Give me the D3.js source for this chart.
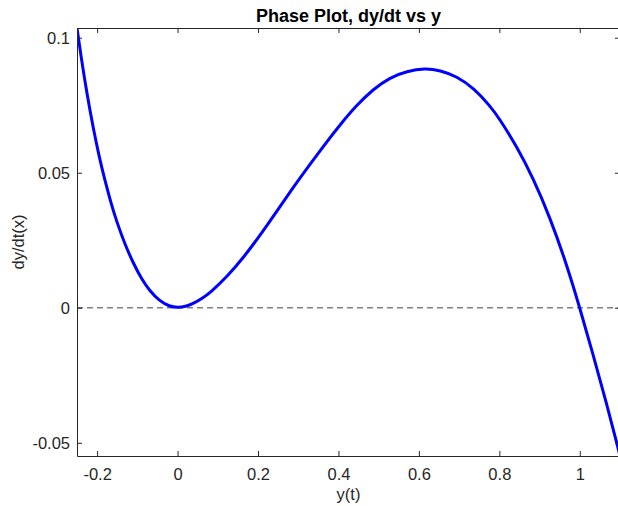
<!DOCTYPE html>
<html>
<head>
<meta charset="utf-8">
<script src="https://cdn.jsdelivr.net/npm/d3@7"></script>
<style>
  body { margin: 0; background: #fff; }
  svg { display: block; font-family: "Liberation Sans", Arial, sans-serif; }
</style>
</head>
<body>
<svg width="618" height="506"></svg>
<script>
// Curve samples
var yVals = [-0.25, -0.24, -0.225, -0.21, -0.195, -0.18, -0.165, -0.15, -0.13, -0.11,
    -0.09, -0.07, -0.045, -0.02, 0, 0.02, 0.0398, 0.06, 0.0812, 0.1227, 0.164, 0.2055,
    0.247, 0.2882, 0.3297, 0.3712, 0.4042, 0.4457, 0.487, 0.5284, 0.570, 0.6154,
    0.6527, 0.6942, 0.7354, 0.777, 0.8017, 0.8432, 0.8845, 0.926, 0.9675, 1.0,
    1.0335, 1.0668, 1.0917, 1.1];
var dyVals = [0.1036, 0.0930, 0.0790, 0.0668, 0.0560, 0.0468, 0.0385, 0.0313, 0.0232, 0.0165,
    0.0108, 0.0064, 0.0025, 0.0005, 0, 0.0004, 0.0016, 0.0033, 0.0056, 0.0114, 0.0186, 0.0269,
    0.0358, 0.0447, 0.0532, 0.0615, 0.0678, 0.0751, 0.0810, 0.0853, 0.0876, 0.0887,
    0.0879, 0.0857, 0.0814, 0.0748, 0.0697, 0.0597, 0.0479, 0.0334, 0.0160, 0,
    -0.0176, -0.0355, -0.0499, -0.0549];
var xTicks = [-0.2, 0, 0.2, 0.4, 0.6, 0.8, 1];
var yTicks = [-0.05, 0, 0.05, 0.1];

var svg = d3.select("svg");
var plotLeft = 77, plotTop = 28, plotRight = 620, plotBottom = 456;
var axisColor = "#262626";
var tickLen = 5;

var x = d3.scaleLinear().domain([-0.25, 1.1]).range([plotLeft, plotRight]);
var y = d3.scaleLinear().domain([-0.0549, 0.1036]).range([plotBottom, plotTop]);

svg.append("defs").append("clipPath")
    .attr("id", "plotclip")
    .append("rect")
    .attr("x", plotLeft).attr("y", plotTop)
    .attr("width", plotRight - plotLeft).attr("height", plotBottom - plotTop);

// zero line
svg.append("line")
    .attr("x1", plotLeft).attr("x2", plotRight)
    .attr("y1", y(0)).attr("y2", y(0))
    .attr("stroke", "#808080")
    .attr("stroke-width", 1.5)
    .attr("stroke-dasharray", "6,4");

var pts = yVals.map(function (v, i) { return [v, dyVals[i]]; });
var line = d3.line()
    .x(function (d) { return x(d[0]); })
    .y(function (d) { return y(d[1]); })
    .curve(d3.curveBasis);

svg.append("path")
    .datum(pts)
    .attr("clip-path", "url(#plotclip)")
    .attr("d", line)
    .attr("fill", "none")
    .attr("stroke", "#0000ff")
    .attr("stroke-width", 3)
    .attr("stroke-linejoin", "round");

// axes (box with inward ticks)
var fmt = function (d) { return d3.format("~g")(d).replace("\u2212", "-"); };
svg.append("g")
    .attr("transform", "translate(0," + plotBottom + ")")
    .call(d3.axisBottom(x).tickValues(xTicks).tickSizeInner(-tickLen).tickSizeOuter(0)
        .tickPadding(12).tickFormat(fmt));
svg.append("g")
    .attr("transform", "translate(0," + plotTop + ")")
    .call(d3.axisTop(x).tickValues(xTicks).tickSizeInner(-tickLen).tickSizeOuter(0)
        .tickFormat(""));
svg.append("g")
    .attr("transform", "translate(" + plotLeft + ",0)")
    .call(d3.axisLeft(y).tickValues(yTicks).tickSizeInner(-tickLen).tickSizeOuter(0)
        .tickPadding(7).tickFormat(fmt));
svg.append("g")
    .attr("transform", "translate(" + plotRight + ",0)")
    .call(d3.axisRight(y).tickValues(yTicks).tickSizeInner(-tickLen).tickSizeOuter(0)
        .tickFormat(""));

svg.selectAll(".domain").attr("stroke", axisColor);
svg.selectAll(".tick line").attr("stroke", axisColor);
svg.selectAll(".tick text")
    .attr("fill", axisColor)
    .style("font-size", "16.5px")
    .style("font-family", "'Liberation Sans', Arial, sans-serif");

// title and labels
svg.append("text")
    .attr("x", (plotLeft + plotRight) / 2)
    .attr("y", 22)
    .attr("text-anchor", "middle")
    .attr("font-weight", "bold")
    .attr("font-size", "18px")
    .attr("fill", "#000")
    .text("Phase Plot, dy/dt vs y");

svg.append("text")
    .attr("x", (plotLeft + plotRight) / 2)
    .attr("y", 500)
    .attr("text-anchor", "middle")
    .attr("font-size", "16.5px")
    .attr("fill", axisColor)
    .text("y(t)");

svg.append("text")
    .attr("transform", "translate(24," + ((plotTop + plotBottom) / 2) + ") rotate(-90)")
    .attr("text-anchor", "middle")
    .attr("font-size", "16.5px")
    .attr("fill", axisColor)
    .text("dy/dt(x)");
</script>
</body>
</html>
